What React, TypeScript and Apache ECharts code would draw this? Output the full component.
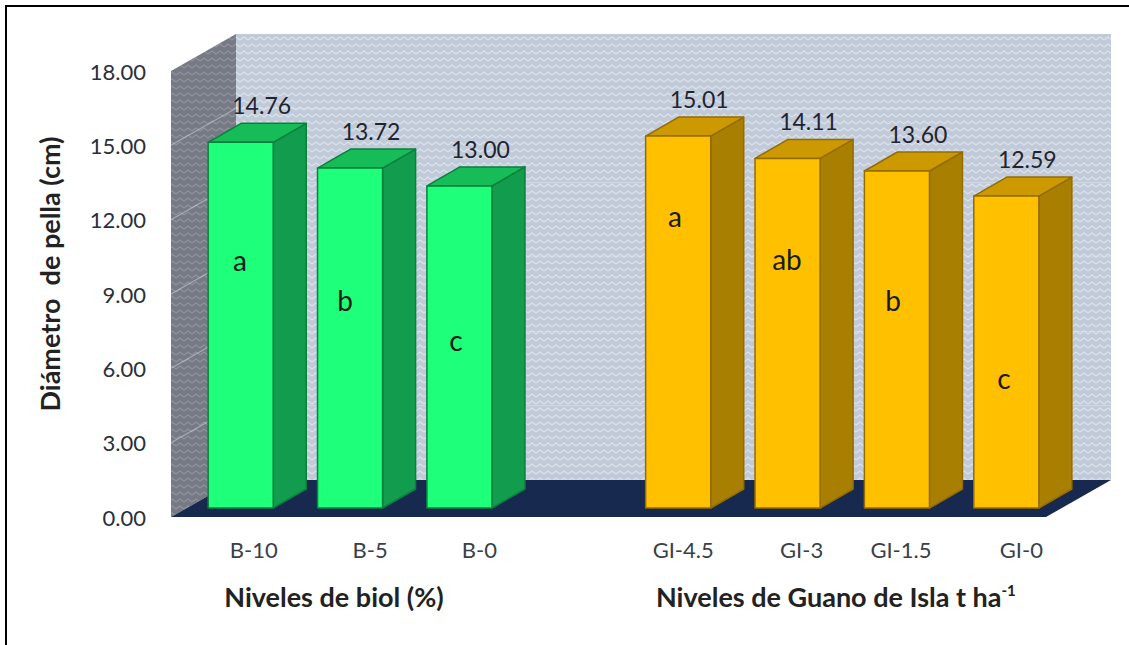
import React, { useEffect, useRef } from "react";
import * as echarts from "echarts";

const categories = ["B-10", "B-5", "B-0", "", "GI-4.5", "GI-3", "GI-1.5", "GI-0"];
const values: (number | null)[] = [14.76, 13.72, 13.0, null, 15.01, 14.11, 13.6, 12.59];
const groups = ["biol", "biol", "biol", "", "guano", "guano", "guano", "guano"];
const letters = ["a", "b", "c", "", "a", "ab", "b", "c"];
const tickValues = [0, 3, 6, 9, 12, 15, 18];

const FONT = "Lato, Carlito, 'Noto Sans', sans-serif";
const TEXT = "#1f2430";
const labelNudge = [13, 20, 20, 0, 5, 14, 4, 15];
const letterX = [240, 345, 456, 0, 675, 787, 893, 1004];
const letterY = [260, 300, 340, 0, 216, 259, 300, 378];

const palette: Record<string, { front: string; top: string; side: string; edge: string }> = {
  biol: { front: "#1EFF7A", top: "#16BC58", side: "#129C4E", edge: "#0C7F3C" },
  guano: { front: "#FFC000", top: "#CC9900", side: "#A87F00", edge: "#946C00" },
};

function wavePattern(bg: string, line: string) {
  const c = document.createElement("canvas");
  c.width = 8;
  c.height = 7;
  const g = c.getContext("2d") as CanvasRenderingContext2D;
  g.fillStyle = bg;
  g.fillRect(0, 0, 8, 7);
  g.strokeStyle = line;
  g.lineWidth = 1.3;
  g.beginPath();
  g.moveTo(0, 5);
  g.lineTo(4, 2);
  g.lineTo(8, 5);
  g.stroke();
  return { image: c, repeat: "repeat", imageWidth: 8, imageHeight: 7 };
}

export default function App() {
  const ref = useRef<HTMLDivElement>(null);

  useEffect(() => {
    document.body.style.margin = "0";
    document.body.style.background = "#fff";
    const chart = echarts.init(ref.current as HTMLDivElement, undefined, { renderer: "svg" });
    const wallDX = 65;
    const wallDY = -37;
    const barDX = 33;
    const barDY = -19;
    const backFill = wavePattern("#C0CAD8", "#DCE2EA");
    const sideFill = wavePattern("#767A85", "#90939E");

    const renderRoom = (params: any, api: any) => {
      const cs = params.coordSys;
      const x0 = cs.x;
      const x1 = cs.x + cs.width;
      const yTop = api.coord([0, 18])[1];
      const yBot = api.coord([0, 0])[1];
      const children: any[] = [
        {
          type: "polygon",
          shape: { points: [[x0 + wallDX, yTop + wallDY], [x1 + wallDX, yTop + wallDY], [x1 + wallDX, yBot + wallDY], [x0 + wallDX, yBot + wallDY]] },
          style: { fill: backFill },
        },
        {
          type: "polygon",
          shape: { points: [[x0, yTop], [x0 + wallDX, yTop + wallDY], [x0 + wallDX, yBot + wallDY], [x0, yBot]] },
          style: { fill: sideFill },
        },
        {
          type: "polygon",
          shape: { points: [[x0, yBot], [x1, yBot], [x1 + wallDX, yBot + wallDY], [x0 + wallDX, yBot + wallDY]] },
          style: { fill: "#17294F" },
        },
      ];
      tickValues.slice(1, -1).forEach((v) => {
        const y = api.coord([0, v])[1];
        children.push({
          type: "polyline",
          shape: { points: [[x0, y], [x0 + wallDX, y + wallDY], [x1 + wallDX, y + wallDY]] },
          style: { fill: "none", stroke: "rgba(225,231,240,0.45)", lineWidth: 1.2 },
        });
      });
      return { type: "group", children };
    };

    const renderBar = (params: any, api: any) => {
      const i = params.dataIndex;
      const v = api.value(1);
      if (v == null || isNaN(v)) return null;
      const c = palette[groups[i]];
      const cx = api.coord([i, 0])[0];
      const w = api.size([1, 0])[0] * 0.595;
      const base = api.coord([i, 0])[1];
      const top = api.coord([i, v])[1];
      const l = cx - w / 2;
      const r = cx + w / 2;
      const edge = { stroke: c.edge, lineWidth: 1.5, lineJoin: "round" };
      return {
        type: "group",
        children: [
          {
            type: "polygon",
            shape: { points: [[r, top], [r + barDX, top + barDY], [r + barDX, base + barDY], [r, base]] },
            style: { fill: c.side, ...edge },
          },
          {
            type: "polygon",
            shape: { points: [[l, top], [r, top], [r + barDX, top + barDY], [l + barDX, top + barDY]] },
            style: { fill: c.top, ...edge },
          },
          {
            type: "rect",
            shape: { x: l, y: top, width: r - l, height: base - top },
            style: { fill: c.front, ...edge },
          },
          {
            type: "text",
            style: {
              x: cx + 21,
              y: top - 37,
              text: (v as number).toFixed(2),
              fill: TEXT,
              font: `23px ${FONT}`,
              align: "center",
              verticalAlign: "middle",
            },
          },
        ],
      };
    };

    const axisLabelData = categories.map((c, i) => ({
      value: c,
      textStyle: { padding: [0, 0, 0, labelNudge[i] * 2] },
    }));

    chart.setOption({
      animation: false,
      backgroundColor: "#fff",
      grid: [
        { left: 171, top: 71, width: 875, height: 446, containLabel: false },
        { left: 186, top: 62, width: 875, height: 446, containLabel: false },
      ],
      xAxis: [
        { gridIndex: 0, type: "category", data: categories, show: false },
        {
          gridIndex: 1,
          type: "category",
          data: axisLabelData,
          axisLine: { show: false },
          axisTick: { show: false },
          axisLabel: { interval: 0, color: "#3a3f48", fontFamily: FONT, fontSize: 22, margin: 30, hideOverlap: false },
        },
      ],
      yAxis: [
        {
          gridIndex: 0,
          type: "value",
          min: 0,
          max: 18,
          interval: 3,
          splitLine: { show: false },
          axisLine: { show: false },
          axisTick: { show: false },
          axisLabel: { color: "#2a2f3a", fontFamily: FONT, fontSize: 22, margin: 25, formatter: (v: number) => v.toFixed(2) },
        },
        { gridIndex: 1, type: "value", min: 0, max: 18, interval: 3, show: false },
      ],
      series: [
        {
          type: "custom",
          xAxisIndex: 0,
          yAxisIndex: 0,
          data: [[0, 0]],
          renderItem: renderRoom,
          silent: true,
          z: 1,
        },
        {
          type: "custom",
          xAxisIndex: 1,
          yAxisIndex: 1,
          data: values.map((v, i) => [i, v]),
          renderItem: renderBar,
          silent: true,
          z: 2,
        },
      ],
      graphic: [
        {
          type: "polyline",
          shape: { points: [[6, 645], [6, 6], [1129, 6]] },
          style: { fill: "none", stroke: "#000", lineWidth: 2 },
        },
        {
          type: "text",
          x: 49,
          y: 274,
          rotation: Math.PI / 2,
          style: {
            text: "Diámetro  de pella (cm)",
            fill: "#222",
            font: `bold 27px ${FONT}`,
            align: "center",
            verticalAlign: "middle",
          },
        },
        {
          type: "text",
          x: 334,
          y: 596,
          style: {
            text: "Niveles de biol (%)",
            fill: "#222",
            font: `bold 27px ${FONT}`,
            align: "center",
            verticalAlign: "middle",
          },
        },
        {
          type: "text",
          x: 656,
          y: 596,
          style: {
            text: "{a|Niveles de Guano de Isla t ha}{s|-1}",
            align: "left",
            verticalAlign: "middle",
            rich: {
              a: { fill: "#222", color: "#222", fontFamily: FONT, fontWeight: "bold", fontSize: 27 },
              s: { fill: "#222", color: "#222", fontFamily: FONT, fontWeight: "bold", fontSize: 15, verticalAlign: "top" },
            },
          },
        },
        ...letters
          .map((t, i) =>
            t
              ? {
                  type: "text",
                  x: letterX[i],
                  y: letterY[i],
                  z: 10,
                  style: { text: t, fill: "#1a1a1a", font: `28px ${FONT}`, align: "center", verticalAlign: "middle" },
                }
              : null
          )
          .filter(Boolean),
      ],
    } as any);
    return () => chart.dispose();
  }, []);

  return <div ref={ref} style={{ position: "absolute", left: 0, top: 0, width: 1129, height: 645 }} />;
}
